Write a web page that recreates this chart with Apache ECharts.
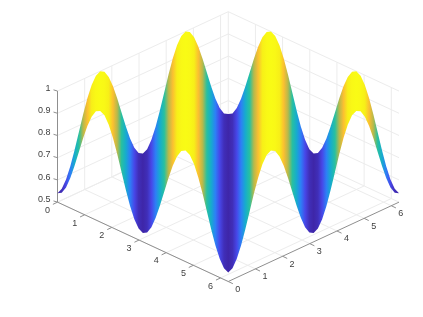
<!DOCTYPE html>
<html>
<head>
<meta charset="utf-8">
<style>html,body{margin:0;padding:0;background:#fff}#c{width:423px;height:317px}</style>
<script src="https://cdn.jsdelivr.net/npm/echarts@6/dist/echarts.min.js"></script>
</head>
<body>
<div id="c"></div>
<script>
// Values
const xTicks = [0, 1, 2, 3, 4, 5, 6];
const yTicks = [0, 1, 2, 3, 4, 5, 6];
const zTicks = [0.5, 0.6, 0.7, 0.8, 0.9, 1];
const xMax = 6.2832;
const zMin = 0.5;
const zMax = 1;
// Height of the surface along x+y, from 0 to 2*xMax in equal steps.
const surfaceHeight = [
  0.540, 0.551, 0.584, 0.635, 0.699, 0.770, 0.841, 0.905, 0.956, 0.989,
  1.000, 0.989, 0.956, 0.905, 0.841, 0.770, 0.699, 0.635, 0.584, 0.551,
  0.540, 0.551, 0.584, 0.635, 0.699, 0.770, 0.841, 0.905, 0.956, 0.989,
  1.000, 0.989, 0.956, 0.905, 0.841, 0.770, 0.699, 0.635, 0.584, 0.551,
  0.540, 0.551, 0.584, 0.635, 0.699, 0.770, 0.841, 0.905, 0.956, 0.989,
  1.000, 0.989, 0.956, 0.905, 0.841, 0.770, 0.699, 0.635, 0.584, 0.551,
  0.540, 0.551, 0.584, 0.635, 0.699, 0.770, 0.841, 0.905, 0.956, 0.989,
  1.000, 0.989, 0.956, 0.905, 0.841, 0.770, 0.699, 0.635, 0.584, 0.551,
  0.540
];
const parula = ['#3e26a8','#4748eb','#2e7cf8','#1fa3dc','#0bb6bb','#28c0a0','#6cc860','#f5ac3a','#fbc030','#f7ee18','#f9fb15'];

// Orthographic view: plane X runs across the page, plane Y up the page.
const Z_GAIN = 1.4;
function project(x, y, z) {
  const u = x / xMax, v = y / xMax;
  return [u + v, (v - u) + (z - zMin) / (zMax - zMin) * Z_GAIN];
}
function hexRgb(h) { return [1, 3, 5].map(i => parseInt(h.substr(i, 2), 16)); }
function colorOf(z) {
  const lo = Math.min.apply(null, surfaceHeight), hi = Math.max.apply(null, surfaceHeight);
  const t = Math.max(0, Math.min(1, (z - lo) / (hi - lo))) * (parula.length - 1);
  const i = Math.min(parula.length - 2, Math.floor(t)), f = t - i;
  const a = hexRgb(parula[i]), b = hexRgb(parula[i + 1]);
  return 'rgb(' + a.map((p, n) => Math.round(p + (b[n] - p) * f)).join(',') + ')';
}
// Ends of the surface's constant-height line for sum s = x+y
function ends(s) {
  return s <= xMax ? [[0, s], [s, 0]] : [[s - xMax, xMax], [xMax, s - xMax]];
}

// Box grid lines and axes
const gridSegs = [], axisSegs = [], labels = [];
xTicks.forEach(t => {
  gridSegs.push([t, 0, zMin, t, xMax, zMin]);
  gridSegs.push([t, xMax, zMin, t, xMax, zMax]);
});
yTicks.forEach(t => {
  gridSegs.push([0, t, zMin, xMax, t, zMin]);
  gridSegs.push([0, t, zMin, 0, t, zMax]);
});
zTicks.forEach(t => {
  gridSegs.push([0, 0, t, 0, xMax, t]);
  gridSegs.push([0, xMax, t, xMax, xMax, t]);
});
axisSegs.push([0, 0, zMin, xMax, 0, zMin]);
axisSegs.push([xMax, 0, zMin, xMax, xMax, zMin]);
axisSegs.push([0, 0, zMin, 0, 0, zMax]);

const ticks = [];
xTicks.forEach(t => {
  ticks.push({ p: [t, 0, zMin], d: [-4.6, 2.2] });
  labels.push({ p: [t, 0, zMin], o: [-10, 8.3], s: String(t), a: 'center' });
});
yTicks.forEach(t => {
  ticks.push({ p: [xMax, t, zMin], d: [4.6, 2.2] });
  labels.push({ p: [xMax, t, zMin], o: [9.5, 7.8], s: String(t), a: 'center' });
});
zTicks.forEach(t => {
  ticks.push({ p: [0, 0, t], d: [-4, -1.2] });
  labels.push({ p: [0, 0, t], o: [-7, -2.7], s: String(t), a: 'right' });
});

const chart = echarts.init(document.getElementById('c'), null, { renderer: 'canvas' });
chart.setOption({
  animation: false,
  backgroundColor: '#fff',
  grid: { left: 57.5, top: 11.7, width: 341.5, height: 269.8 },
  xAxis: { type: 'value', min: 0, max: 2, show: false },
  yAxis: { type: 'value', min: -1, max: 2.4, show: false },
  series: [
    {
      type: 'custom', coordinateSystem: 'cartesian2d', silent: true, z: 1,
      data: gridSegs.map((s, i) => [i]), encode: { x: 0, y: 0 }, clip: false,
      renderItem(params, api) {
        const s = gridSegs[params.dataIndex];
        const a = api.coord(project(s[0], s[1], s[2])), b = api.coord(project(s[3], s[4], s[5]));
        return { type: 'line', shape: { x1: a[0], y1: a[1], x2: b[0], y2: b[1] }, style: { stroke: '#ececec', lineWidth: 1 } };
      }
    },
    {
      type: 'custom', coordinateSystem: 'cartesian2d', silent: true, z: 2,
      data: axisSegs.map((s, i) => [i]), encode: { x: 0, y: 0 }, clip: false,
      renderItem(params, api) {
        const s = axisSegs[params.dataIndex];
        const a = api.coord(project(s[0], s[1], s[2])), b = api.coord(project(s[3], s[4], s[5]));
        return { type: 'line', shape: { x1: a[0], y1: a[1], x2: b[0], y2: b[1] }, style: { stroke: '#8f8f8f', lineWidth: 1 } };
      }
    },
    {
      type: 'custom', coordinateSystem: 'cartesian2d', silent: true, z: 2,
      data: ticks.map((s, i) => [i]), encode: { x: 0, y: 0 }, clip: false,
      renderItem(params, api) {
        const s = ticks[params.dataIndex];
        const a = api.coord(project(s.p[0], s.p[1], s.p[2]));
        return { type: 'line', shape: { x1: a[0], y1: a[1], x2: a[0] + s.d[0], y2: a[1] + s.d[1] }, style: { stroke: '#8f8f8f', lineWidth: 1 } };
      }
    },
    {
      type: 'custom', coordinateSystem: 'cartesian2d', silent: true, z: 3,
      data: [[0]], encode: { x: 0, y: 0 }, clip: false,
      renderItem(params, api) {
        const n = surfaceHeight.length - 1;
        const top = [], bottom = [], stops = [];
        surfaceHeight.forEach((z, k) => {
          const e = ends(2 * xMax * k / n);
          top.push(api.coord(project(e[0][0], e[0][1], z)));
          bottom.push(api.coord(project(e[1][0], e[1][1], z)));
          stops.push({ offset: k / n, color: colorOf(z) });
        });
        const g = new echarts.graphic.LinearGradient(0, 0, 1, 0, stops);
        return { type: 'polygon', shape: { points: top.concat(bottom.reverse()) }, style: { fill: g } };
      }
    },
    {
      type: 'custom', coordinateSystem: 'cartesian2d', silent: true, z: 4,
      data: labels.map((s, i) => [i]), encode: { x: 0, y: 0 }, clip: false,
      renderItem(params, api) {
        const s = labels[params.dataIndex];
        const a = api.coord(project(s.p[0], s.p[1], s.p[2]));
        return { type: 'text', x: a[0] + s.o[0], y: a[1] + s.o[1], style: {
          text: s.s, textAlign: s.a, textVerticalAlign: 'middle', verticalAlign: 'middle',
          fill: '#404040', font: '9px "Liberation Sans", Arial, sans-serif' } };
      }
    }
  ]
});
</script>
</body>
</html>
